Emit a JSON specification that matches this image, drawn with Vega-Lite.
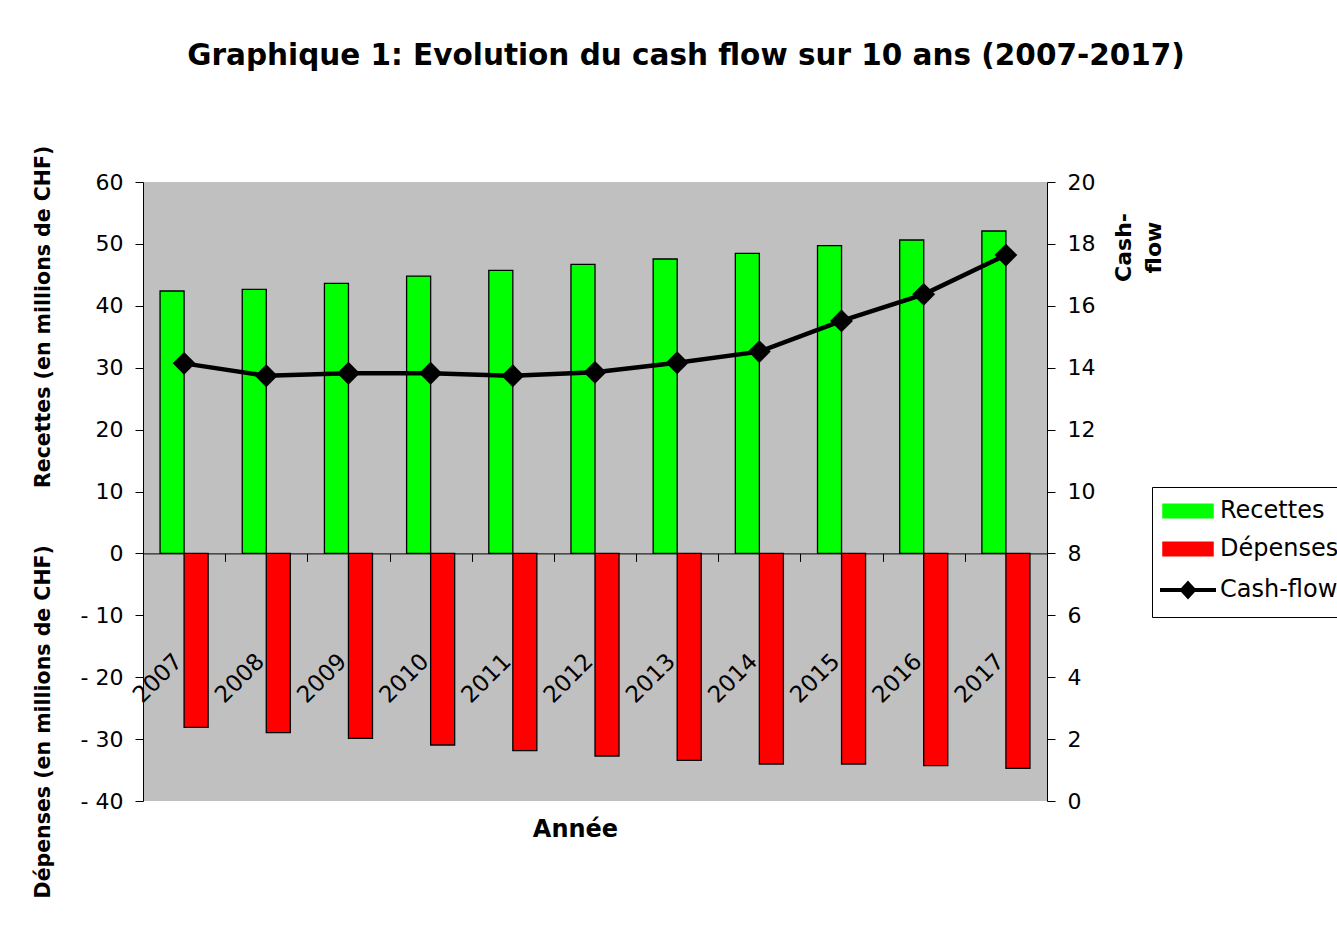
{
  "$schema": "https://vega.github.io/schema/vega-lite/v6.json",
  "width": 904,
  "height": 619,
  "autosize": {"type": "none"},
  "padding": {"left": 143, "top": 182, "right": 290, "bottom": 133},
  "background": "white",
  "title": {
    "text": "Graphique 1: Evolution du cash flow sur 10 ans (2007-2017)",
    "font": "DejaVu Sans",
    "fontSize": 29.5,
    "fontWeight": "bold",
    "color": "black",
    "anchor": "middle",
    "frame": "group",
    "dx": 91,
    "offset": 74
  },
  "data": {
    "values": [
      {"year": "2007", "series": "Recettes", "value": 42.39},
      {"year": "2008", "series": "Recettes", "value": 42.66},
      {"year": "2009", "series": "Recettes", "value": 43.63},
      {"year": "2010", "series": "Recettes", "value": 44.81},
      {"year": "2011", "series": "Recettes", "value": 45.73},
      {"year": "2012", "series": "Recettes", "value": 46.7},
      {"year": "2013", "series": "Recettes", "value": 47.56},
      {"year": "2014", "series": "Recettes", "value": 48.48},
      {"year": "2015", "series": "Recettes", "value": 49.71},
      {"year": "2016", "series": "Recettes", "value": 50.63},
      {"year": "2017", "series": "Recettes", "value": 52.08},
      {"year": "2007", "series": "Dépenses", "value": -28.09},
      {"year": "2008", "series": "Dépenses", "value": -28.97},
      {"year": "2009", "series": "Dépenses", "value": -29.87},
      {"year": "2010", "series": "Dépenses", "value": -30.95},
      {"year": "2011", "series": "Dépenses", "value": -31.87},
      {"year": "2012", "series": "Dépenses", "value": -32.73},
      {"year": "2013", "series": "Dépenses", "value": -33.43},
      {"year": "2014", "series": "Dépenses", "value": -34.02},
      {"year": "2015", "series": "Dépenses", "value": -34.02},
      {"year": "2016", "series": "Dépenses", "value": -34.3},
      {"year": "2017", "series": "Dépenses", "value": -34.72},
      {"year": "2007", "series": "Cash-flow", "value": 14.14},
      {"year": "2008", "series": "Cash-flow", "value": 13.74},
      {"year": "2009", "series": "Cash-flow", "value": 13.82},
      {"year": "2010", "series": "Cash-flow", "value": 13.82},
      {"year": "2011", "series": "Cash-flow", "value": 13.74},
      {"year": "2012", "series": "Cash-flow", "value": 13.85},
      {"year": "2013", "series": "Cash-flow", "value": 14.16},
      {"year": "2014", "series": "Cash-flow", "value": 14.52},
      {"year": "2015", "series": "Cash-flow", "value": 15.51},
      {"year": "2016", "series": "Cash-flow", "value": 16.37},
      {"year": "2017", "series": "Cash-flow", "value": 17.64}
    ]
  },
  "encoding": {
    "x": {
      "field": "year",
      "type": "nominal",
      "scale": {"paddingInner": 0, "paddingOuter": 0},
      "axis": {
        "title": "Année",
        "titleFont": "DejaVu Sans",
        "titleFontSize": 24,
        "titleFontWeight": "bold",
        "titleColor": "black",
        "titleX": 432,
        "titleY": 282.6,
        "titleAlign": "center",
        "titleBaseline": "alphabetic",
        "titleAngle": 0,
        "offset": -247.6,
        "labelAngle": -45,
        "labelAlign": "right",
        "labelBaseline": "middle",
        "labelPadding": 96,
        "labelOffset": -6,
        "labelFont": "DejaVu Sans",
        "labelFontSize": 23,
        "labelColor": "black",
        "tickBand": "extent",
        "tickSize": 8,
        "tickColor": "black",
        "domainColor": "black",
        "grid": false,
        "encode": {"ticks": {"update": {"y": {"value": -8}}}}
      }
    },
    "color": {
      "field": "series",
      "type": "nominal",
      "scale": {
        "domain": ["Recettes", "Dépenses", "Cash-flow"],
        "range": ["#00ff00", "#ff0000", "#000000"]
      },
      "legend": {
        "orient": "none",
        "legendX": 1009,
        "legendY": 305,
        "title": null,
        "strokeColor": "black",
        "fillColor": "white",
        "padding": 12,
        "labelFont": "DejaVu Sans",
        "labelFontSize": 24,
        "labelColor": "black",
        "symbolSize": 400,
        "symbolOffset": 12,
        "labelOffset": 20,
        "rowPadding": 14,
        "encode": {
          "symbols": {
            "update": {
              "shape": {"signal": "datum.value === 'Cash-flow' ? 'M-2.8,0H2.8M0,-0.65L0.6,0L0,0.65L-0.6,0Z' : 'M-2.5,-0.67H2.5V0.67H-2.5Z'"},
              "stroke": {"value": "black"},
              "strokeWidth": {"signal": "datum.value === 'Cash-flow' ? 4 : 1.5"},
              "fill": {"scale": "color", "field": "value"},
              "opacity": {"value": 1},
              "fillOpacity": {"value": 1}
            }
          }
        }
      }
    }
  },
  "layer": [
    {
      "transform": [{"filter": "datum.series !== 'Cash-flow'"}],
      "mark": {"type": "bar", "stroke": "black", "strokeWidth": 1.3},
      "encoding": {
        "xOffset": {
          "field": "series",
          "type": "nominal",
          "sort": ["Recettes", "Dépenses"],
          "scale": {"paddingInner": 0, "paddingOuter": 0.71}
        },
        "y": {
          "field": "value",
          "type": "quantitative",
          "scale": {"domain": [-40, 60], "nice": false},
          "axis": {
            "orient": "left",
            "values": [-40, -30, -20, -10, 0, 10, 20, 30, 40, 50, 60],
            "title": "Dépenses (en millions de CHF)\u00a0\u00a0\u00a0\u00a0\u00a0\u00a0\u00a0\u00a0Recettes (en millions de CHF)",
            "titleFont": "DejaVu Sans",
            "titleFontSize": 20.5,
            "titleFontWeight": "bold",
            "titleColor": "black",
            "titleAngle": -90,
            "titleX": -100,
            "titleY": 339.5,
            "titleAlign": "center",
            "titleBaseline": "middle",
            "labelFont": "DejaVu Sans",
            "labelFontSize": 22,
            "labelColor": "black",
            "labelPadding": 12,
            "labelExpr": "datum.value < 0 ? '- ' + abs(datum.value) : datum.label",
            "tickSize": 8,
            "tickColor": "black",
            "domainColor": "black",
            "grid": false,
            "encode": {"ticks": {"update": {"x": {"value": 8}}}}
          }
        }
      }
    },
    {
      "transform": [{"filter": "datum.series === 'Cash-flow'"}],
      "mark": {
        "type": "line",
        "strokeWidth": 4.5,
        "point": {"shape": "diamond", "size": 520, "filled": true, "fill": "black", "opacity": 1}
      },
      "encoding": {
        "y": {
          "field": "value",
          "type": "quantitative",
          "scale": {"domain": [0, 20], "nice": false},
          "axis": {
            "orient": "right",
            "values": [0, 2, 4, 6, 8, 10, 12, 14, 16, 18, 20],
            "title": ["Cash-", "flow"],
            "titleFont": "DejaVu Sans",
            "titleFontSize": 22,
            "titleFontWeight": "bold",
            "titleColor": "black",
            "titleAngle": -90,
            "titleX": 76,
            "titleY": 65,
            "titleAlign": "center",
            "titleBaseline": "middle",
            "titleLineHeight": 30,
            "labelFont": "DejaVu Sans",
            "labelFontSize": 22,
            "labelColor": "black",
            "labelPadding": 12,
            "tickSize": 8,
            "tickColor": "black",
            "domainColor": "black",
            "grid": false,
            "encode": {"ticks": {"update": {"x": {"value": -8}}}}
          }
        }
      }
    }
  ],
  "resolve": {"scale": {"y": "independent"}},
  "config": {
    "font": "DejaVu Sans",
    "view": {"fill": "#c0c0c0", "stroke": null}
  }
}
